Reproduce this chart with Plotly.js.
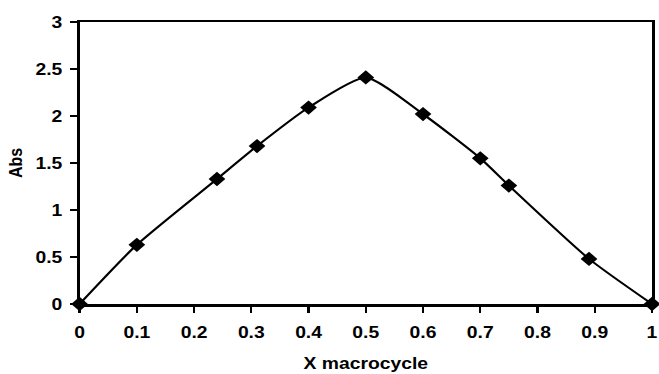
<!DOCTYPE html>
<html>
<head>
<meta charset="utf-8">
<script src="https://cdn.plot.ly/plotly-3.0.1.min.js"></script>
<style>
html, body { margin: 0; padding: 0; background: #fff; overflow: hidden; width: 659px; height: 374px; }
#chart { width: 563px; height: 374px; transform: scaleX(1.17052); transform-origin: 0 0; }
</style>
</head>
<body>
<div id="chart"></div>
<script>
const xMacrocycle = [0, 0.1, 0.24, 0.31, 0.4, 0.5, 0.6, 0.7, 0.75, 0.89, 1];
const absValues = [0, 0.63, 1.33, 1.68, 2.09, 2.41, 2.02, 1.55, 1.26, 0.48, 0];
const xTitle = 'X macrocycle';
const yTitle = 'Abs';

const fontFamily = '"Liberation Sans", Arial, sans-serif';
const tickFont = { family: fontFamily, size: 16.5, color: '#000', weight: 'bold' };

const trace = {
  x: xMacrocycle,
  y: absValues,
  type: 'scatter',
  mode: 'lines+markers',
  line: { color: '#000', width: 2, shape: 'spline', smoothing: 0.6 },
  marker: { symbol: 'diamond', size: 11, color: '#000' },
  cliponaxis: false,
  showlegend: false,
  hoverinfo: 'none'
};

const layout = {
  width: 563,
  height: 374,
  margin: { l: 68, r: 5.5, t: 22, b: 70 },
  paper_bgcolor: '#fff',
  plot_bgcolor: '#fff',
  font: { family: fontFamily, size: 16.5, color: '#000', weight: 'bold' },
  xaxis: {
    range: [0, 1],
    dtick: 0.1,
    tick0: 0,
    showgrid: false,
    zeroline: false,
    showline: true,
    linecolor: '#000',
    linewidth: 2.5,
    mirror: true,
    ticks: 'outside',
    ticklen: 6,
    tickwidth: 2,
    tickcolor: '#000',
    ticklabelstandoff: 6,
    ticklabeloverflow: 'allow',
    tickfont: tickFont,
    title: { text: xTitle, font: { family: fontFamily, size: 16.5, color: '#000', weight: 'bold' }, standoff: 17 }
  },
  yaxis: {
    range: [0, 3],
    dtick: 0.5,
    tick0: 0,
    showgrid: false,
    zeroline: false,
    showline: true,
    linecolor: '#000',
    linewidth: 2.5,
    mirror: true,
    ticks: 'outside',
    ticklen: 6,
    tickwidth: 2,
    tickcolor: '#000',
    ticklabelstandoff: 3,
    ticklabeloverflow: 'allow',
    tickfont: tickFont,
    title: { text: yTitle, font: { family: fontFamily, size: 16, color: '#000', weight: 'bold' }, standoff: 7 }
  }
};

Plotly.newPlot('chart', [trace], layout, { displayModeBar: false, staticPlot: true });
</script>
</body>
</html>
